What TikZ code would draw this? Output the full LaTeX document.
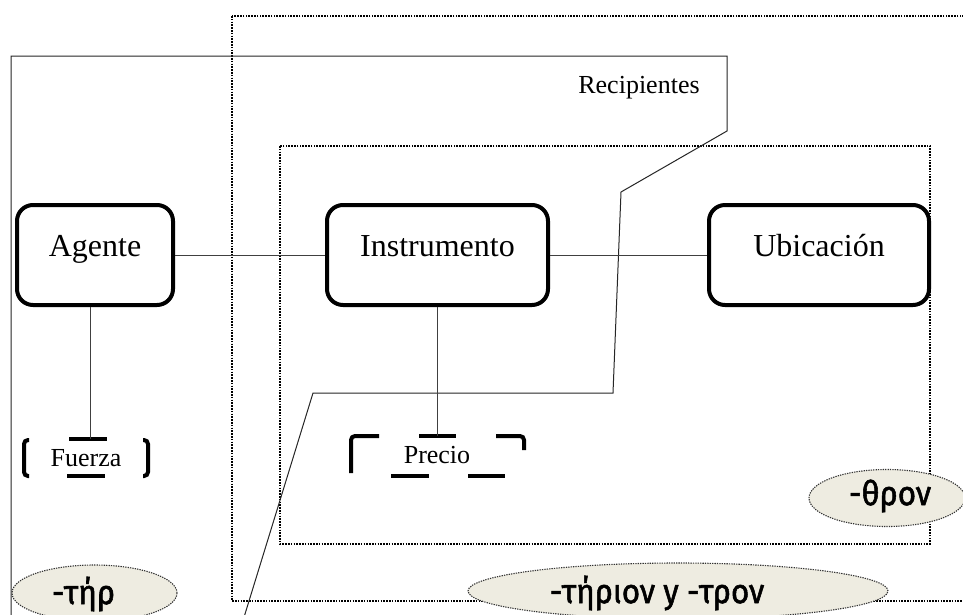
\documentclass[tikz,border=0pt]{standalone}
\usepackage{fontspec}
\setmainfont{Liberation Serif}
\newfontfamily\grk[FakeBold=1.6, FakeStretch=0.92]{Fira Sans}
\usetikzlibrary{shapes.geometric}
\definecolor{suffixfill}{HTML}{EEECE1}
\tikzset{
  frame/.style={draw=black, line width=1.1pt, dash pattern=on 1.6pt off 1.2pt},
  region/.style={draw=black!85, line width=1pt},
  link/.style={draw=black!75, line width=1pt},
  rolebox/.style={draw=black, line width=4pt, rounded corners=16pt, fill=white,
    minimum width=#1, minimum height=100pt, inner sep=0pt,
    font=\fontsize{32}{32}\selectfont, text height=21pt, text depth=19pt},
  brk/.style={draw=black, line width=4pt, rounded corners=4pt},
  small/.style={font=\fontsize{26}{26}\selectfont, inner sep=0pt},
  suffix/.style={ellipse, draw=black!80, line width=1.1pt, dash pattern=on 1.3pt off 1.1pt,
    fill=suffixfill, inner sep=0pt},
  suffixtext/.style={font=\grk\fontsize{34}{34}\selectfont}
}
\begin{document}
\begin{tikzpicture}[x=1pt,y=-1pt]
\useasboundingbox (0,0) rectangle (963,614);
\clip (0,0) rectangle (963,614);
\fill[white] (0,0) rectangle (963,614);

% dotted frames
\draw[frame] (232,16) rectangle (1000,601);
\draw[frame] (280,146) rectangle (930,544);

% solid outline around the "Recipientes" region
\draw[region] (11,640) -- (11,56) -- (727,56) -- (727,131) -- (621,192)
  -- (613,393) -- (313,393) -- (237,640);
\node[small] (recip) at (639,88) {Recipientes};

% main role boxes
\node[rolebox=156pt] (agente) at (95,255) {Agente};
\node[rolebox=221pt] (instr) at (437.5,255) {Instrumento};
\node[rolebox=220pt] (ubic) at (819,255) {Ubicación};

\draw[link] (agente.east) -- (instr.west);
\draw[link] (instr.east) -- (ubic.west);

% Fuerza
\node[small] (fuerza) at (86,458) {Fuerza};
\coordinate (ftop) at (90,439);
\draw[brk] (29,440) -- (24,440) -- (24,476) -- (29,476);
\draw[brk] (143,440) -- (148,440) -- (148,476) -- (143,476);
\draw[brk, rounded corners=0pt] (69,439) -- (107,439);
\draw[brk, rounded corners=0pt] (67,476) -- (105,476);
\draw[link] (ftop) -- (ftop |- agente.south);

% Precio
\node[small] (precio) at (437,455) {Precio};
\coordinate (ptop) at (437,436);
\draw[brk] (379,436) -- (351,436) -- (351,473);
\draw[brk] (496,436) -- (524,436) -- (524,450);
\draw[brk, rounded corners=0pt] (419,436) -- (456,436);
\draw[brk, rounded corners=0pt] (391,476) -- (429,476);
\draw[brk, rounded corners=0pt] (468,476) -- (505,476);
\draw[link] (ptop) -- (ptop |- instr.south);

% suffix ellipses
\node[suffix, minimum width=165pt, minimum height=56pt,
  label={[suffixtext, xshift=-11pt, yshift=-1pt]center:-τήρ}] (ter) at (94.5,593) {};
\node[suffix, minimum width=420pt, minimum height=56pt,
  label={[suffixtext, xshift=-21pt, yshift=-2pt]center:-τήριον y -τρον}] (terion) at (678,591) {};
\node[suffix, minimum width=156pt, minimum height=57pt,
  label={[suffixtext, xshift=3pt, yshift=2pt]center:-θρον}] (thron) at (887,498) {};
\end{tikzpicture}
\end{document}
